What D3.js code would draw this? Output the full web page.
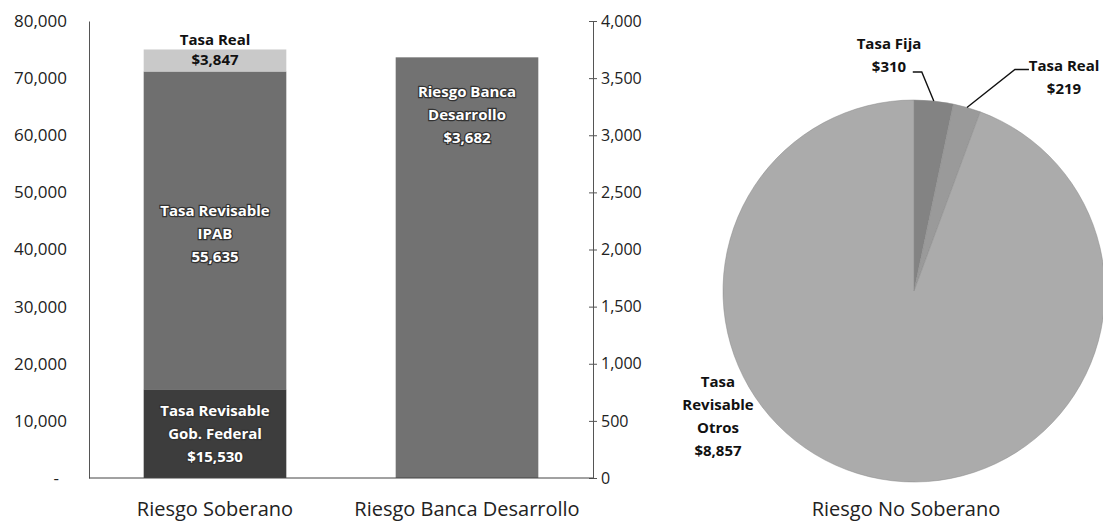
<!DOCTYPE html>
<html>
<head>
<meta charset="utf-8">
<script src="https://cdn.jsdelivr.net/npm/d3@7"></script>
<style>
  body { margin: 0; background: #fff; }
  svg text { font-family: "Open Sans", sans-serif; }
</style>
</head>
<body>
<div id="chart"></div>
<script>
const W = 1103, H = 523;

// bar data
const barCategories = ["Riesgo Soberano", "Riesgo Banca Desarrollo"];
const soberanoNames = [["Tasa Revisable", "Gob. Federal"], ["Tasa Revisable", "IPAB"], ["Tasa Real"]];
const soberanoValues = [15530, 55635, 3847];
const soberanoLabels = ["$15,530", "55,635", "$3,847"];
const bancaNames = ["Riesgo Banca", "Desarrollo"];
const bancaValue = 3682;
const bancaLabel = "$3,682";
const leftTicks = [0, 10000, 20000, 30000, 40000, 50000, 60000, 70000, 80000];
const rightTicks = [0, 500, 1000, 1500, 2000, 2500, 3000, 3500, 4000];

// pie data
const pieNames = ["Tasa Fija", "Tasa Real", "Tasa Revisable Otros"];
const pieValues = [310, 219, 8857];
const pieLabels = ["$310", "$219", "$8,857"];
const pieTitle = "Riesgo No Soberano";

const M = { LEFT: 89, RIGHT: 593, TOP: 21, BOTTOM: 478 };

const svg = d3.select('#chart').append('svg')
    .attr('width', W).attr('height', H);

const yL = d3.scaleLinear().domain([0, 80000]).range([M.BOTTOM, M.TOP]);
const yR = d3.scaleLinear().domain([0, 4000]).range([M.BOTTOM, M.TOP]);
const x = d3.scaleBand().domain(barCategories)
    .range([M.LEFT, M.RIGHT])
    .paddingInner(0.434).paddingOuter(0.217);

// stacked bar
const segColors = ["#3d3d3d", "#6f6f6f", "#c9c9c9"];
let acc = 0;
const stack = soberanoValues.map((v, i) => {
    const s = { y0: acc, y1: acc + v, i };
    acc += v;
    return s;
});

svg.selectAll('rect.sob').data(stack).enter().append('rect')
    .attr('class', 'sob')
    .attr('x', x(barCategories[0]))
    .attr('width', x.bandwidth())
    .attr('y', d => yL(d.y1))
    .attr('height', d => yL(d.y0) - yL(d.y1))
    .attr('fill', d => segColors[d.i]);

svg.append('rect')
    .attr('x', x(barCategories[1]))
    .attr('width', x.bandwidth())
    .attr('y', yR(bancaValue))
    .attr('height', yR(0) - yR(bancaValue))
    .attr('fill', '#727272');

// axes
const leftAxis = d3.axisLeft(yL).tickValues(leftTicks).tickSize(0).tickPadding(22)
    .tickFormat(d => d3.format(",")(d));
const gL = svg.append('g').attr('transform', `translate(${M.LEFT},0)`).call(leftAxis);
gL.selectAll('text').attr('font-size', 17).attr('fill', '#222')
    .text(d => d === 0 ? "-" : d3.format(",")(d))
    .attr('dx', d => d === 0 ? -8 : 0);
gL.select('.domain').attr('stroke', '#555');

const rightAxis = d3.axisRight(yR).tickValues(rightTicks).tickSize(4).tickPadding(4)
    .tickFormat(d3.format(","));
const gR = svg.append('g').attr('transform', `translate(${M.RIGHT},0)`).call(rightAxis);
gR.selectAll('text').attr('font-size', 16).attr('fill', '#222');
gR.select('.domain').attr('stroke', '#555');
gR.selectAll('.tick line').attr('x1', -4).attr('stroke', '#555');

svg.append('line')
    .attr('x1', M.LEFT).attr('x2', M.RIGHT)
    .attr('y1', M.BOTTOM).attr('y2', M.BOTTOM)
    .attr('stroke', '#444');

// category labels
svg.selectAll('text.cat').data(barCategories).enter().append('text')
    .attr('class', 'cat')
    .attr('x', d => x(d) + x.bandwidth() / 2)
    .attr('y', 516)
    .attr('text-anchor', 'middle')
    .attr('font-size', 20)
    .attr('fill', '#222')
    .text(d => d);

// bar labels
function labelBlock(lines, cx, cy, white, lh) {
    lh = lh || 23;
    const t = svg.append('text')
        .attr('text-anchor', 'middle')
        .attr('font-size', 15)
        .attr('font-weight', 'bold')
        .attr('fill', white ? '#fff' : '#111');
    if (white) t.attr('stroke', '#333').attr('stroke-width', 2.5).attr('paint-order', 'stroke');
    lines.forEach((l, i) => {
        t.append('tspan').attr('x', cx)
            .attr('y', cy + (i - (lines.length - 1) / 2) * lh)
            .text(l);
    });
}
const cx1 = x(barCategories[0]) + x.bandwidth() / 2;
const cx2 = x(barCategories[1]) + x.bandwidth() / 2;
labelBlock([...soberanoNames[0], soberanoLabels[0]], cx1, yL((stack[0].y0 + stack[0].y1) / 2) + 5, true);
labelBlock([...soberanoNames[1], soberanoLabels[1]], cx1, 239, true);
labelBlock([...soberanoNames[2], soberanoLabels[2]], cx1, yL(stack[2].y1) + 6, false, 20);
labelBlock([...bancaNames, bancaLabel], cx2, 120, true);

// pie
const R = 191, pcx = 914, pcy = 291;
const pie = d3.pie().sort(null).value(d => d)(pieValues);
const arc = d3.arc().innerRadius(0).outerRadius(R);
const pieColors = ["#838383", "#9a9a9a", "#ababab"];
const gP = svg.append('g').attr('transform', `translate(${pcx},${pcy})`);
gP.selectAll('path').data(pie).enter().append('path')
    .attr('d', arc)
    .attr('fill', (d, i) => pieColors[i])
    .attr('stroke', '#8a8a8a').attr('stroke-width', 0.5);

const outer = d3.arc().innerRadius(R).outerRadius(R);
const pFija = outer.centroid(pie[0]);
const pReal = outer.centroid(pie[1]);

// leader lines
gP.append('polyline')
    .attr('points', [[pFija[0], pFija[1]], [pFija[0] - 12, pFija[1] - 29], [pFija[0] - 21, pFija[1] - 29]].join(' '))
    .attr('fill', 'none').attr('stroke', '#111').attr('stroke-width', 1.4);
gP.append('polyline')
    .attr('points', [[pReal[0], pReal[1]], [pReal[0] + 48, pReal[1] - 38], [pReal[0] + 62, pReal[1] - 38]].join(' '))
    .attr('fill', 'none').attr('stroke', '#111').attr('stroke-width', 1.4);

function pieLabel(lines, px, py, anchor) {
    const t = svg.append('text').attr('font-size', 15).attr('font-weight', 'bold')
        .attr('fill', '#111').attr('text-anchor', anchor || 'middle');
    lines.forEach((l, i) => {
        t.append('tspan').attr('x', px).attr('y', py + i * 23).text(l);
    });
}
pieLabel([pieNames[0], pieLabels[0]], 889, 49);
pieLabel([pieNames[1], pieLabels[1]], 1064, 71);
pieLabel(["Tasa", "Revisable", "Otros", pieLabels[2]], pcx - R - 5, 387);

svg.append('text')
    .attr('x', pcx - 8).attr('y', 516)
    .attr('text-anchor', 'middle')
    .attr('font-size', 20).attr('fill', '#222')
    .text(pieTitle);
</script>
</body>
</html>
